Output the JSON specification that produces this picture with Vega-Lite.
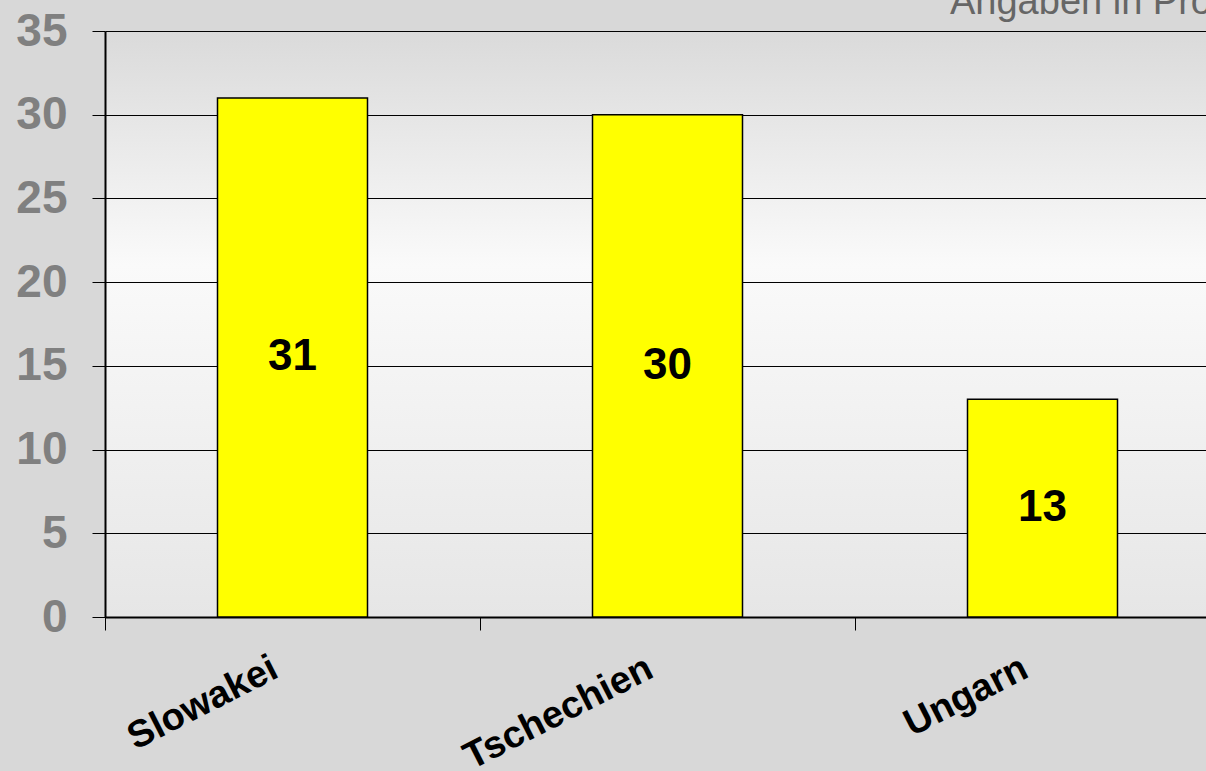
{
  "$schema": "https://vega.github.io/schema/vega-lite/v6.json",
  "width": 1125,
  "height": 586,
  "autosize": "none",
  "padding": {"left": 105, "top": 31, "right": 0, "bottom": 154},
  "background": "#d8d8d8",
  "config": {
    "font": "Liberation Sans",
    "view": {
      "stroke": null,
      "fill": {"gradient": "linear", "x1": 0, "y1": 0, "x2": 0, "y2": 1,
        "stops": [{"offset": 0, "color": "#dadada"}, {"offset": 0.4, "color": "#fafafa"}, {"offset": 1, "color": "#e6e6e6"}]}
    }
  },
  "title": {"text": "Angaben in Prozent", "anchor": "start", "dx": 845, "dy": 44, "fontSize": 38, "fontWeight": "normal", "fontStyle": "normal", "color": "#666666", "baseline": "alphabetic", "offset": 0, "frame": "group"},
  "data": {"values": [
    {"Land": "Slowakei", "Wert": 31},
    {"Land": "Tschechien", "Wert": 30},
    {"Land": "Ungarn", "Wert": 13}
  ]},
  "encoding": {
    "x": {"field": "Land", "type": "nominal", "sort": null,
      "scale": {"paddingInner": 0.6, "paddingOuter": 0.3},
      "axis": {"title": null, "labelAngle": -27, "labelAlign": "right", "labelBaseline": "middle", "labelFontSize": 38, "labelFontWeight": "bold", "labelColor": "#000000", "labelPadding": 36, "labelLimit": 0, "tickOffset": -187.5, "labelOffset": 170, "tickSize": 13, "tickColor": "#000000", "tickWidth": 1, "domainColor": "#000000", "domainWidth": 2, "grid": false}}
  },
  "layer": [
    {
      "mark": {"type": "bar", "fill": "#ffff00", "stroke": "#000000", "strokeWidth": 1.5},
      "encoding": {
        "y": {"field": "Wert", "type": "quantitative", "scale": {"domain": [0, 35], "nice": false},
          "axis": {"title": null, "values": [0, 5, 10, 15, 20, 25, 30, 35], "labelFontSize": 46, "labelFontWeight": "bold", "labelColor": "#808080", "labelPadding": 25, "tickSize": 13, "tickColor": "#000000", "tickWidth": 1, "domainColor": "#000000", "domainWidth": 2, "grid": true, "gridColor": "#000000", "gridWidth": 1, "gridOpacity": 1}}
      }
    },
    {
      "transform": [{"calculate": "datum.Wert / 2", "as": "Mitte"}],
      "mark": {"type": "text", "fontSize": 44, "fontWeight": "bold", "color": "#000000"},
      "encoding": {
        "y": {"field": "Mitte", "type": "quantitative", "title": null},
        "text": {"field": "Wert", "type": "quantitative"}
      }
    }
  ]
}
